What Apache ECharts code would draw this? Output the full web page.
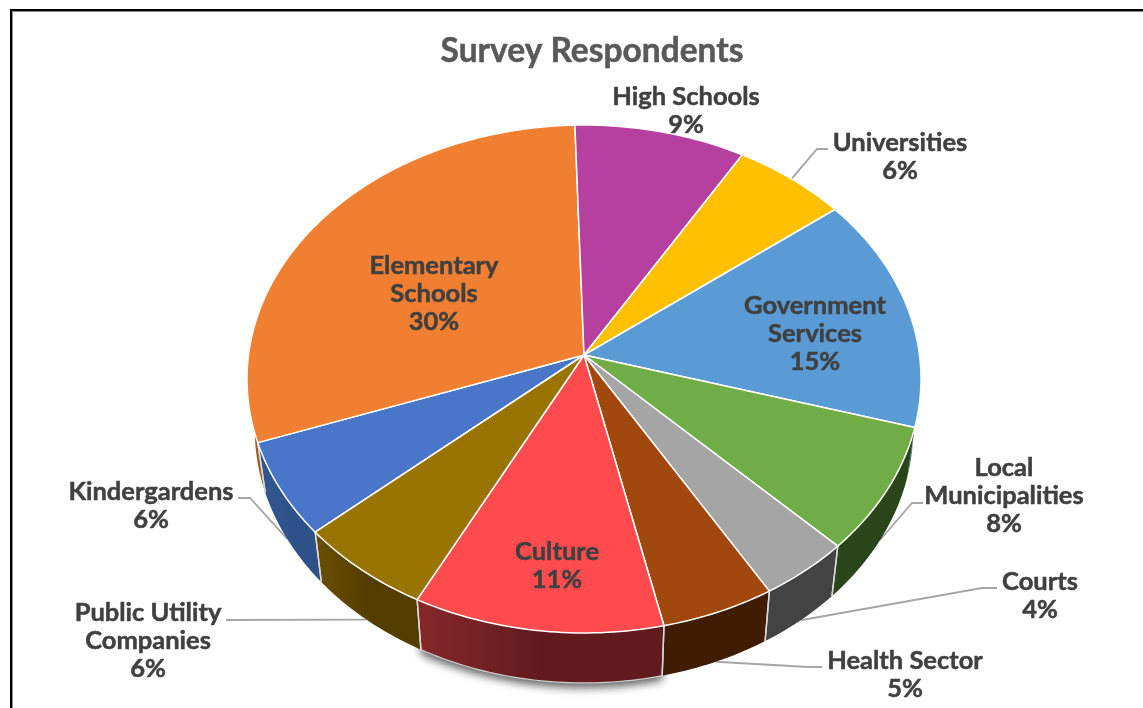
<!DOCTYPE html>
<html>
<head>
<meta charset="utf-8">
<title>Survey Respondents</title>
<style>
  html, body { margin: 0; padding: 0; background: #fff; }
  #chart { width: 1143px; height: 708px; }
</style>
<script src="https://cdn.jsdelivr.net/npm/echarts@6/dist/echarts.min.js"></script>
</head>
<body>
<div id="chart"></div>
<script>
// Survey respondents by sector, clockwise from the Kindergardens slice.
const categories = ['Kindergardens', 'Elementary\nSchools', 'High Schools', 'Universities',
  'Government\nServices', 'Local\nMunicipalities', 'Courts', 'Health Sector', 'Culture',
  'Public Utility\nCompanies'];
const shares = [6, 30, 9, 6, 15, 8, 4, 5, 11, 6];

const topColors = ['#4a76c9', '#f17f31', '#b6409f', '#ffc000', '#5b9bd5',
  '#70ad47', '#a5a5a5', '#a0480e', '#ff4b4d', '#9a7403'];
const wallLeftColors = ['#33578f', '#a55a22', '#7a2b6b', '#b38600', '#3f75a8',
  '#2b451b', '#434343', '#3f1c03', '#86282a', '#6b4f00'];
const wallRightColors = ['#2f5189', '#a55a22', '#7a2b6b', '#b38600', '#3f75a8',
  '#2b451b', '#434343', '#3f1c03', '#611b1e', '#533e00'];

// Text anchors in chart units, one per category.
const labelX = [151, 434, 686, 900, 815, 1004, 1040, 905, 557, 148];
const labelY = [505, 293, 110, 156, 333, 495, 595, 674, 565, 640];

// Leader lines: label-side end and elbow; null for labels placed on or beside their slice.
const leaderEnds = [[238, 498], null, null, [828, 149], null, [923, 503], [997, 588], [822, 667], null, [226, 620]];
const leaderElbows = [[250, 498], null, null, [817, 149], null, [912, 503], [982, 588], [808, 667], null, null];

const FIRST_SLICE_DEG = 228.7;   // clockwise from 12 o'clock
const CENTER_X = 584;
const CENTER_Y = 355;
const FOCAL_X = 335.5;           // horizontal disc scale
const FOCAL_Y = 251.7;           // vertical disc scale after tilt
const PERSPECTIVE = 0.0945;      // near edge of the disc is drawn larger
const WALL_DROP = 50;            // thickness of the disc
const WALL_SHRINK = 0.977;       // lower rim is slightly narrower
const SHADOWED = 'Culture';
const INK = '#404040';
const FONT = 'Lato';

const total = shares.reduce((a, b) => a + b, 0);
const startAngles = [];
shares.reduce((acc, v, i) => { startAngles[i] = acc; return acc + v / total * 360; }, FIRST_SLICE_DEG);
const endAngle = i => startAngles[i] + shares[i] / total * 360;
const midAngle = i => (startAngles[i] + endAngle(i)) / 2;

// Project a rim angle on to the tilted disc.
function rim(deg) {
  const t = deg * Math.PI / 180;
  const X = Math.sin(t), Y = -Math.cos(t), w = 1 - PERSPECTIVE * Y;
  return [CENTER_X + FOCAL_X * X / w, CENTER_Y + FOCAL_Y * Y / w];
}
function lowerRim(deg) {
  const p = rim(deg);
  return [CENTER_X + (p[0] - CENTER_X) * WALL_SHRINK, p[1] + WALL_DROP];
}
function arc(from, to, fn) {
  const pts = [];
  const steps = Math.max(2, Math.ceil(to - from));
  for (let k = 0; k <= steps; k++) pts.push(fn(from + (to - from) * k / steps));
  return pts;
}
const isFront = deg => { const n = ((deg % 360) + 360) % 360; return n > 115 && n < 260; };

const indices = categories.map((_, i) => [i]);

function renderLeader(params, api) {
  const i = api.value(0);
  if (!leaderEnds[i]) return { type: 'group', children: [] };
  const m = midAngle(i);
  const anchor = i === 3 ? rim(m) : lowerRim(m);
  const pts = [leaderEnds[i]];
  if (leaderElbows[i]) pts.push(leaderElbows[i]);
  pts.push(anchor);
  return {
    type: 'polyline',
    shape: { points: pts.map(p => api.coord(p)) },
    style: { stroke: '#a6a6a6', lineWidth: 1.8, fill: null },
    silent: true
  };
}

function renderWall(params, api) {
  const i = api.value(0);
  const a0 = startAngles[i], a1 = endAngle(i);
  const upper = arc(a0, a1, rim);
  const lower = arc(a0, a1, lowerRim);
  const outline = upper.concat(lower.slice().reverse()).map(p => api.coord(p));
  const shadowed = categories[i] === SHADOWED;
  const children = [{
    type: 'polygon',
    z2: shadowed ? 0 : 1,
    shape: { points: outline },
    style: Object.assign({
      fill: new echarts.graphic.LinearGradient(0, 0, 1, 0, [
        { offset: 0, color: wallLeftColors[i] },
        { offset: 0.5, color: wallRightColors[i] },
        { offset: 1, color: wallRightColors[i] }
      ])
    }, shadowed ? { shadowBlur: 9, shadowOffsetY: 5, shadowColor: 'rgba(0,0,0,0.6)' } : {})
  }];
  [a0, a1].forEach(a => {
    if (isFront(a)) {
      children.push({
        type: 'polyline',
        z2: 2,
        shape: { points: [api.coord(rim(a)), api.coord(lowerRim(a))] },
        style: { stroke: '#d9d9d9', lineWidth: 1.4, fill: null }
      });
    }
  });
  if (shadowed) {
    children.push({
      type: 'polyline',
      z2: 2,
      shape: { points: lower.map(p => api.coord(p)) },
      style: { stroke: '#cfcfcf', lineWidth: 1.2, fill: null }
    });
  }
  return { type: 'group', children, silent: true };
}

function renderTop(params, api) {
  const i = api.value(0);
  const pts = [[CENTER_X, CENTER_Y]].concat(arc(startAngles[i], endAngle(i), rim));
  return {
    type: 'polygon',
    shape: { points: pts.map(p => api.coord(p)) },
    style: { fill: topColors[i], stroke: '#ffffff', lineWidth: 1.5, lineJoin: 'round' },
    silent: true
  };
}

function renderLabel(params, api) {
  const i = api.value(0);
  const c = api.coord([labelX[i], labelY[i]]);
  return {
    type: 'text',
    x: c[0],
    y: c[1] + 1,
    style: {
      text: categories[i] + '\n' + shares[i] + '%',
      fontFamily: FONT,
      fontWeight: 'bold',
      fontSize: 25.5,
      lineHeight: 28,
      align: 'center',
      verticalAlign: 'middle',
      fill: INK,
      stroke: INK,
      lineWidth: 0.5
    },
    silent: true
  };
}

const chart = echarts.init(document.getElementById('chart'));
chart.setOption({
  animation: false,
  backgroundColor: '#ffffff',
  title: {
    text: 'Survey Respondents',
    left: 587,
    top: 29,
    textAlign: 'center',
    textStyle: {
      fontFamily: FONT, fontWeight: 'bold', fontSize: 33.5, color: '#595959',
      textBorderColor: '#595959', textBorderWidth: 0.5
    }
  },
  grid: { left: 0, right: 0, top: 0, bottom: 0 },
  xAxis: { type: 'value', min: 0, max: 1143, show: false },
  yAxis: { type: 'value', min: 0, max: 708, inverse: true, show: false },
  graphic: [
    { type: 'rect', shape: { x: 10, y: 9, width: 1133, height: 2 }, style: { fill: '#000' } },
    { type: 'rect', shape: { x: 12, y: 11, width: 1131, height: 1 }, style: { fill: '#8c8c8c' } },
    { type: 'rect', shape: { x: 10, y: 9, width: 2, height: 699 }, style: { fill: '#000' } },
    { type: 'rect', shape: { x: 12, y: 11, width: 1, height: 697 }, style: { fill: '#8c8c8c' } }
  ],
  series: [
    { type: 'custom', name: 'Leaders', z: 1, data: indices, renderItem: renderLeader, encode: { x: -1, y: -1 }, clip: false },
    { type: 'custom', name: 'Walls', z: 2, data: indices, renderItem: renderWall, encode: { x: -1, y: -1 }, clip: false },
    { type: 'custom', name: 'Slices', z: 3, data: indices, renderItem: renderTop, encode: { x: -1, y: -1 }, clip: false },
    { type: 'custom', name: 'Labels', z: 4, data: indices, renderItem: renderLabel, encode: { x: -1, y: -1 }, clip: false }
  ]
});
</script>
</body>
</html>
